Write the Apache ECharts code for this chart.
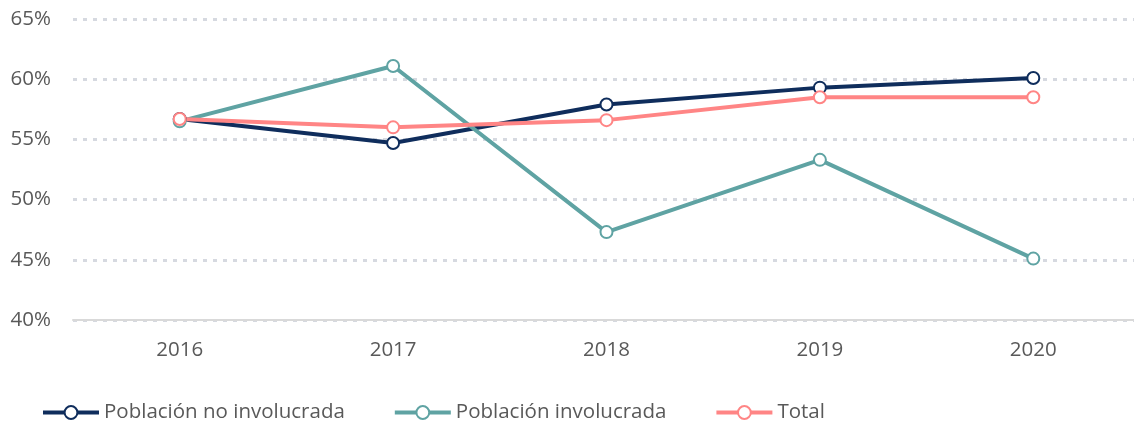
<!DOCTYPE html>
<html>
<head>
<meta charset="utf-8">
<script src="https://cdn.jsdelivr.net/npm/echarts@6/dist/echarts.min.js"></script>
<style>
  html, body { margin: 0; padding: 0; background: #fff; }
  #myChart { width: 1134px; height: 423px; }
</style>
</head>
<body>
<div id="myChart"></div>
<script>
  // datos
  var years = ['2016', '2017', '2018', '2019', '2020']
  var noInvolucrada = [56.7, 54.7, 57.9, 59.3, 60.1]
  var involucrada = [56.5, 61.1, 47.3, 53.3, 45.1]
  var total = [56.7, 56.0, 56.6, 58.5, 58.5]

  var textColor = '#595959'
  var font = 'Open Sans'
  var fontSize = 20.5

  function serie(name, data, color) {
    return {
      name: name,
      type: 'line',
      data: data,
      symbol: 'emptyCircle',
      symbolSize: 12,
      lineStyle: { color: color, width: 4 },
      itemStyle: { color: color, borderColor: color, borderWidth: 3.5, opacity: 1 },
      emphasis: { disabled: true }
    }
  }

  var myChart = echarts.init(document.getElementById('myChart'))
  var option = {
    animation: false,
    textStyle: { fontFamily: font },
    grid: { left: 73, right: -6, top: 19, bottom: 103, containLabel: false, outerBoundsMode: 'none' },
    legend: {
      left: 36,
      top: 397,
      itemWidth: 56,
      itemHeight: 16,
      itemGap: 48,
      lineStyle: { width: 4 },
      itemStyle: { borderWidth: 3.5 },
      textStyle: { color: textColor, fontSize: fontSize, fontFamily: font },
      data: ['Población no involucrada', 'Población involucrada', 'Total']
    },
    xAxis: {
      type: 'category',
      data: years,
      boundaryGap: true,
      axisLine: { lineStyle: { color: '#d9d9d9', width: 2 } },
      axisTick: { show: false },
      axisLabel: { color: textColor, fontSize: fontSize, margin: 20 }
    },
    yAxis: {
      type: 'value',
      min: 40,
      max: 65,
      interval: 5,
      axisLine: { show: false },
      axisTick: { show: false },
      axisLabel: { formatter: '{value}%', color: textColor, fontSize: fontSize, margin: 22 },
      splitLine: {
        lineStyle: { color: '#d6d9e0', width: 3, type: [4, 6] }
      }
    },
    series: [
      serie('Población no involucrada', noInvolucrada, '#0f2d5c'),
      serie('Población involucrada', involucrada, '#5fa3a3'),
      serie('Total', total, '#ff8585')
    ]
  }
  myChart.setOption(option)
</script>
</body>
</html>
